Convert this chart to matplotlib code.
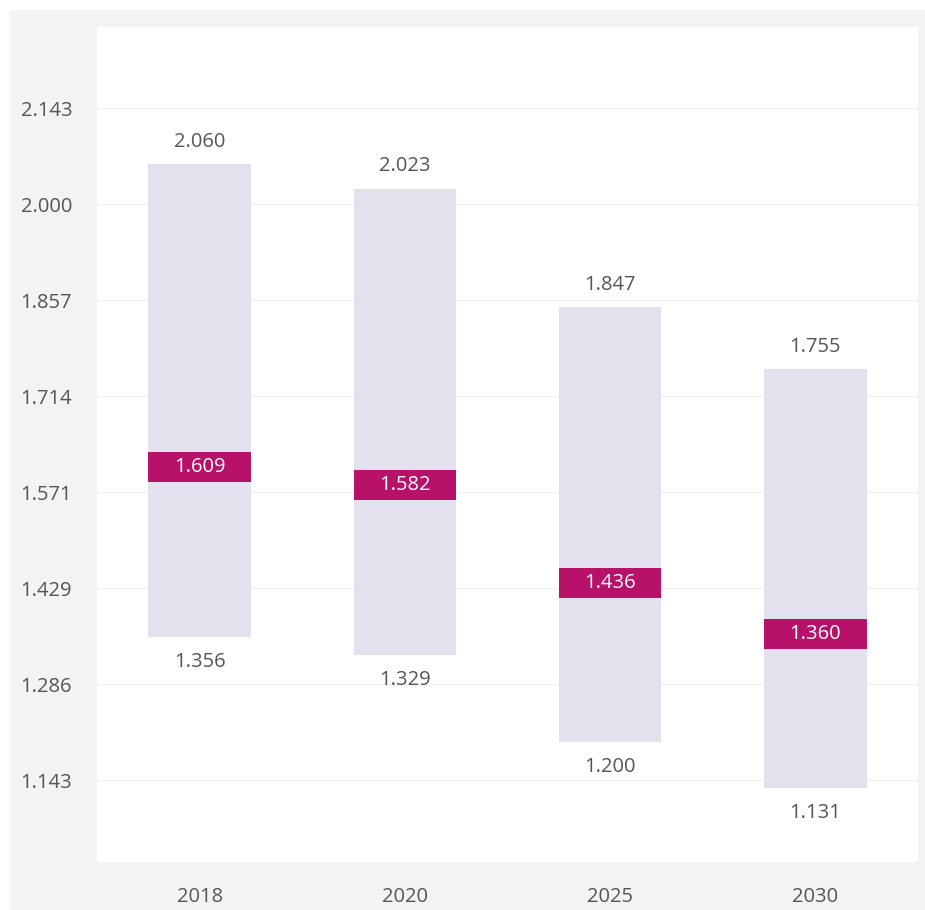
import matplotlib
matplotlib.use("Agg")
import matplotlib.pyplot as plt
from matplotlib.patches import Rectangle

years = ["2018", "2020", "2025", "2030"]
low = [1.356, 1.329, 1.200, 1.131]
high = [2.060, 2.023, 1.847, 1.755]
mid = [1.609, 1.582, 1.436, 1.360]
ytick_vals = [8/7, 9/7, 10/7, 11/7, 12/7, 13/7, 2.0, 15/7]
ytick_labels = ["1.143", "1.286", "1.429", "1.571", "1.714", "1.857", "2.000", "2.143"]

W, H = 925, 910
plt.rcParams['font.family'] = ['Open Sans', 'DejaVu Sans']
fig = plt.figure(figsize=(W/100, H/100), dpi=100, facecolor="white")
fig.patches.append(Rectangle((10/W, 0), 1, 1 - 10/H, transform=fig.transFigure,
                             facecolor="#f3f3f3", edgecolor="none", zorder=-10))

ax = fig.add_axes([97/W, 1 - 862/H, (918-97)/W, (862-27)/H])
ax.set_facecolor("white")
ymin, ymax = 1.0215, 2.2635
ax.set_ylim(ymin, ymax)
ax.set_xlim(-0.5, len(years) - 0.5)

text_color = "#555555"
fs = 14.5
x = list(range(len(years)))
ax.bar(x, [h - l for h, l in zip(high, low)], bottom=low, width=0.5,
       color="#e3e1ee", zorder=2)
band = 30 / 672
ax.bar(x, [band]*len(x), bottom=[m - band/2 for m in mid], width=0.5,
       color="#b8116a", zorder=3)

for xi, l, h, m in zip(x, low, high, mid):
    ax.annotate(f"{h:.3f}", (xi, h), xytext=(0, 16), textcoords="offset points",
                ha="center", va="center", fontsize=fs, color=text_color)
    ax.annotate(f"{l:.3f}", (xi, l), xytext=(0, -18), textcoords="offset points",
                ha="center", va="center", fontsize=fs, color=text_color)
    ax.text(xi, m, f"{m:.3f}", ha="center", va="center", fontsize=fs,
            color="white", zorder=4)

ax.set_yticks(ytick_vals)
ax.set_yticklabels(ytick_labels)
ax.set_xticks(x)
ax.set_xticklabels(years)
ax.grid(axis="y", color="#f0f0f0", linewidth=1, zorder=0)
ax.set_axisbelow(True)
ax.tick_params(axis="both", length=0, labelsize=fs, labelcolor=text_color)
ax.tick_params(axis="y", pad=55)
for lab in ax.get_yticklabels():
    lab.set_horizontalalignment("left")
ax.tick_params(axis="x", pad=18)
for s in ax.spines.values():
    s.set_visible(False)

fig.savefig("out.png", dpi=100, facecolor="white")
